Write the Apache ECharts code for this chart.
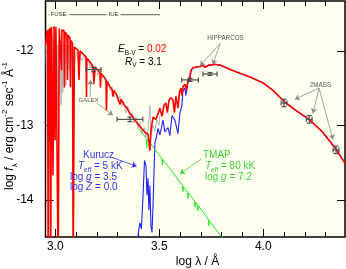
<!DOCTYPE html>
<html><head><meta charset="utf-8">
<script src="https://cdn.jsdelivr.net/npm/echarts@6/dist/echarts.min.js"></script>
<style>html,body{margin:0;padding:0;background:#fff}#c{width:346px;height:269px}</style>
</head><body><div id="c"></div>
<script>
const xMin = 2.953, xMax = 4.393, yMin = -14.5, yMax = -11.33;
const xTickLabels = [3.0, 3.5, 4.0];
const xMinorTicks = [3.0, 3.1, 3.2, 3.3, 3.4, 3.5, 3.6, 3.7, 3.8, 3.9, 4.0, 4.1, 4.2, 4.3];
const yTickLabels = [-14, -13, -12];

// combined reddened model (red)
const redSpectrum = [[2.954,-11.92],[2.958,-11.76],[2.963,-11.72],[2.966,-15],[2.970,-11.71],[2.972,-13.20],[2.975,-11.69],[2.978,-15],[2.982,-11.68],[2.989,-13.67],[2.994,-11.67],[2.999,-13.20],[3.003,-11.68],[3.010,-11.69],[3.014,-15],[3.019,-11.70],[3.027,-11.71],[3.030,-12.26],[3.032,-11.72],[3.042,-11.73],[3.044,-12.49],[3.047,-11.75],[3.056,-11.78],[3.059,-12.39],[3.061,-11.79],[3.071,-11.83],[3.073,-12.49],[3.075,-11.86],[3.083,-11.90],[3.086,-15],[3.092,-11.95],[3.100,-11.96],[3.109,-11.99],[3.114,-12.39],[3.119,-12.00],[3.133,-12.04],[3.148,-12.08],[3.150,-12.62],[3.152,-12.10],[3.167,-12.15],[3.181,-12.21],[3.186,-12.44],[3.191,-12.22],[3.205,-12.26],[3.215,-12.29],[3.217,-12.49],[3.220,-12.30],[3.234,-12.35],[3.244,-12.39],[3.246,-12.80],[3.249,-12.41],[3.263,-12.48],[3.273,-12.52],[3.277,-12.61],[3.282,-12.53],[3.297,-12.60],[3.306,-12.62],[3.311,-12.72],[3.316,-12.65],[3.330,-12.72],[3.345,-12.77],[3.359,-12.84],[3.374,-12.89],[3.388,-12.95],[3.402,-13.00],[3.417,-13.05],[3.431,-13.09],[3.446,-13.12],[3.455,-13.34],[3.460,-13.07],[3.470,-12.89],[3.484,-12.92],[3.494,-12.84],[3.503,-12.77],[3.513,-12.88],[3.523,-12.73],[3.532,-12.70],[3.539,-12.83],[3.547,-12.66],[3.556,-12.63],[3.566,-12.66],[3.573,-12.83],[3.580,-12.61],[3.590,-12.77],[3.597,-12.56],[3.604,-12.50],[3.609,-12.60],[3.614,-12.48],[3.624,-12.45],[3.631,-12.53],[3.638,-12.39],[3.648,-12.34],[3.652,-12.26],[3.662,-12.23],[3.672,-12.22],[3.681,-12.21],[3.696,-12.21],[3.710,-12.19],[3.720,-12.22],[3.729,-12.23],[3.739,-12.19],[3.753,-12.19],[3.768,-12.18],[3.782,-12.19],[3.792,-12.19],[3.816,-12.22],[3.850,-12.26],[3.888,-12.30],[3.936,-12.35],[3.999,-12.43],[4.047,-12.53],[4.100,-12.68],[4.157,-12.80],[4.220,-12.92],[4.282,-13.08],[4.350,-13.32],[4.393,-13.51]];

// observed FUSE / IUE spectrum (gray)
const graySpectrum = [[2.955,-11.92],[2.960,-12.66],[2.964,-11.86],[2.967,-13.20],[2.971,-11.79],[2.975,-12.60],[2.978,-11.76],[2.982,-12.73],[2.986,-11.80],[2.990,-12.53],[2.994,-11.86],[2.998,-13.20],[3.001,-11.83],[3.005,-12.66],[3.009,-11.92],[3.013,-12.80],[3.017,-11.88],[3.021,-12.60],[3.025,-11.86],[3.028,-12.73],[3.032,-11.92],[3.036,-12.56],[3.040,-11.88],[3.044,-12.50],[3.048,-11.92],[3.051,-12.46],[3.055,-11.96],[3.059,-12.33],[3.063,-11.92],[3.067,-12.26],[3.071,-11.92],[3.075,-12.15],[3.080,-11.96],[3.085,-12.26],[3.090,-12.02],[3.095,-12.13],[3.102,-12.02],[3.109,-12.10],[3.119,-12.03],[3.128,-12.13],[3.138,-12.07],[3.148,-12.15],[3.157,-12.10],[3.167,-12.23],[3.176,-12.17],[3.186,-12.29],[3.196,-12.21],[3.205,-12.33],[3.215,-12.26],[3.225,-12.37],[3.234,-12.33],[3.244,-12.45],[3.253,-12.39],[3.263,-12.53],[3.273,-12.48],[3.282,-12.62],[3.292,-12.56],[3.301,-12.68],[3.311,-12.61],[3.321,-12.74],[3.330,-12.68],[3.340,-12.83],[3.349,-12.74],[3.359,-12.91],[3.369,-12.83],[3.378,-12.97],[3.388,-12.89],[3.398,-13.04],[3.407,-12.96],[3.417,-13.11],[3.427,-13.03],[3.436,-13.16],[3.446,-13.07],[3.455,-12.73],[3.460,-13.13],[3.470,-13.00],[3.479,-13.07],[3.489,-12.93],[3.499,-13.00],[3.503,-12.87]];

// Kurucz model (blue)
const kuruczSpectrum = [[3.393,-14.61],[3.402,-14.39],[3.407,-14.31],[3.414,-14.39],[3.422,-13.94],[3.429,-13.47],[3.436,-13.54],[3.441,-13.94],[3.446,-13.71],[3.450,-14.14],[3.455,-13.81],[3.460,-14.35],[3.465,-14.44],[3.470,-14.08],[3.475,-13.61],[3.479,-13.24],[3.487,-13.15],[3.494,-13.04],[3.503,-13.13],[3.518,-12.93],[3.527,-13.09],[3.542,-13.03],[3.551,-13.14],[3.561,-12.87],[3.575,-12.93],[3.590,-13.11],[3.599,-12.84],[3.609,-12.73],[3.614,-12.53],[3.623,-12.50],[3.628,-12.60],[3.637,-12.43],[3.648,-12.39],[3.652,-12.27],[3.662,-12.23],[3.672,-12.22],[3.681,-12.21],[3.696,-12.21],[3.710,-12.19],[3.720,-12.22],[3.729,-12.23],[3.739,-12.19],[3.753,-12.19],[3.768,-12.18],[3.782,-12.19],[3.792,-12.19],[3.816,-12.22],[3.850,-12.26],[3.888,-12.30],[3.936,-12.35],[3.999,-12.43],[4.047,-12.53],[4.100,-12.68],[4.157,-12.80],[4.220,-12.92],[4.282,-13.08],[4.350,-13.32],[4.393,-13.51]];

// TMAP model (green)
const tmapSpectrum = [[3.400,-13.04],[3.430,-13.15],[3.438,-13.18],[3.440,-13.30],[3.442,-13.19],[3.460,-13.25],[3.480,-13.33],[3.500,-13.40],[3.513,-13.45],[3.515,-13.53],[3.517,-13.46],[3.551,-13.58],[3.580,-13.69],[3.612,-13.81],[3.614,-13.89],[3.616,-13.82],[3.636,-13.90],[3.638,-13.98],[3.640,-13.91],[3.660,-13.98],[3.670,-14.02],[3.672,-14.10],[3.674,-14.03],[3.684,-14.07],[3.686,-14.15],[3.688,-14.08],[3.710,-14.16],[3.737,-14.27],[3.739,-14.35],[3.741,-14.28],[3.770,-14.39],[3.800,-14.50],[3.820,-14.58]];

// photometry (GALEX FUV, NUV, Tycho BT, VT, 2MASS J, H, K)
const photBand = ['FUV','NUV','BT','VT','J','H','K'];
const photLam = [3.184, 3.359, 3.648, 3.744, 4.100, 4.221, 4.350];
const photHalfWidth = [0.036, 0.062, 0.040, 0.034, 0.014, 0.014, 0.014];
const photFlux = [-12.25, -12.92, -12.39, -12.31, -12.70, -12.92, -13.33];
const photErr = [0.03, 0.03, 0.02, 0.02, 0.05, 0.05, 0.05];

const FF = '"Liberation Sans", Arial, sans-serif';
const chart = echarts.init(document.getElementById('c'), null, {renderer:'canvas'});

function xAx(pos, ticks, len, labels){
  return {type:'value', min:xMin, max:xMax, position:pos, splitLine:{show:false},
    axisLine:{show:false},
    axisTick:{show:true, inside:true, length:len, customValues:ticks, lineStyle:{color:'#000', width:1}},
    axisLabel: labels ? {show:true, customValues:xTickLabels, formatter:v=>Number(v).toFixed(1), margin:4, fontSize:12, color:'#000', fontFamily:FF} : {show:false}};
}
function yAx(pos, labels){
  return {type:'value', min:yMin, max:yMax, position:pos, splitLine:{show:false}, axisLine:{show:false},
    axisTick:{show:true, inside:true, length:8, customValues:yTickLabels, lineStyle:{color:'#000', width:1}},
    axisLabel: labels ? {show:true, customValues:yTickLabels, formatter:v=>String(v), margin:12, fontSize:12, color:'#000', fontFamily:FF} : {show:false}};
}

function T(x, y, text, fill, size, rich){
  const r = {};
  const base = rich || {};
  for (const k in base) r[k] = Object.assign({fill:fill, color:fill, fontSize:size, fontFamily:FF, lineHeight:size+4}, base[k]);
  return {type:'text', x:x, y:y, z:100, silent:true,
    style:{text:text, fill:fill, font: size+'px '+FF, fontSize:size, fontFamily:FF, lineHeight:size+4,
      align:'left', verticalAlign:'middle', textAlign:'left', textVerticalAlign:'middle', rich:r}};
}
const KB = '#3232ee', TG = '#3ad43a';
const arrowStyle = (c)=>({silent:true, symbol:['none','arrow'], symbolSize:5, z:20, animation:false,
  label:{show:false}, emphasis:{disabled:true}, lineStyle:{color:c, width:0.8, type:'solid'}});

const option = {
  animation:false,
  grid:{left:45.5, top:1, right:1, bottom:32, show:true, backgroundColor:'#fffff0', borderColor:'#000', borderWidth:1.5},
  xAxis:[xAx('bottom', xMinorTicks, 5, true), xAx('bottom', xTickLabels, 8, false), xAx('top', xMinorTicks, 5, false), xAx('top', xTickLabels, 8, false)],
  yAxis:[yAx('left', true), yAx('right', false)],
  series:[
    {type:'line', data:graySpectrum, showSymbol:false, symbol:'none', lineStyle:{color:'#b4b4b4', width:1}, z:2,
     markLine:Object.assign(arrowStyle('#8a8a8a'), {data:[
       [{coord:[3.167,-12.62]},{coord:[3.170,-12.39]}],
       [{coord:[3.199,-12.70]},{coord:[3.277,-12.865]}],
       [{coord:[3.793,-11.90]},{coord:[3.696,-12.20]}],
       [{coord:[3.793,-11.90]},{coord:[3.757,-12.18]}],
       [{coord:[4.268,-12.50]},{coord:[4.152,-12.65]}],
       [{coord:[4.268,-12.50]},{coord:[4.239,-12.84]}],
       [{coord:[4.268,-12.50]},{coord:[4.335,-13.19]}]
     ]})},
    {type:'line', data:kuruczSpectrum, showSymbol:false, symbol:'none', lineStyle:{color:'#2020ff', width:1.1}, z:3,
     markLine:Object.assign(arrowStyle(KB), {data:[[{coord:[3.271,-13.43]},{coord:[3.391,-13.55]}]]})},
    {type:'line', data:tmapSpectrum, showSymbol:false, symbol:'none', lineStyle:{color:'#22e822', width:1}, z:3,
     markLine:Object.assign(arrowStyle(TG), {data:[[{coord:[3.704,-13.45]},{coord:[3.600,-13.65]}]]})},
    {type:'line', data:redSpectrum, showSymbol:false, symbol:'none', lineStyle:{color:'#ff0000', width:1.6}, z:4},
    {type:'custom', z:10, data:photLam.map((l,i)=>[l, photFlux[i], photHalfWidth[i], photErr[i]]),
     encode:{x:0, y:1},
     renderItem:function(params, api){
       const lam=api.value(0), f=api.value(1), hw=api.value(2), er=api.value(3);
       const L=api.coord([lam-hw,f]), R=api.coord([lam+hw,f]), Tp=api.coord([lam,f+er]), B=api.coord([lam,f-er]);
       const cap=2.5, st={stroke:'#505050', lineWidth:1.2};
       const seg=(x1,y1,x2,y2)=>({type:'line', shape:{x1:x1,y1:y1,x2:x2,y2:y2}, style:st});
       return {type:'group', children:[
         seg(L[0],L[1],R[0],R[1]), seg(L[0],L[1]-cap,L[0],L[1]+cap), seg(R[0],R[1]-cap,R[0],R[1]+cap),
         seg(Tp[0],Tp[1],B[0],B[1]), seg(Tp[0]-cap,Tp[1],Tp[0]+cap,Tp[1]), seg(B[0]-cap,B[1],B[0]+cap,B[1])]};
     }}
  ],
  graphic:[
    {type:'line', z:90, silent:true, shape:{x1:48.5,y1:14.7,x2:68,y2:14.7}, style:{stroke:'#333', lineWidth:0.8}},
    {type:'line', z:90, silent:true, shape:{x1:69.5,y1:14.7,x2:160,y2:14.7}, style:{stroke:'#333', lineWidth:0.8}},
    {type:'text', z:100, x:58.5, y:14.5, silent:true, style:{text:'FUSE', fill:'#333', font:'6px '+FF, align:'center', verticalAlign:'middle', textAlign:'center', textVerticalAlign:'middle', backgroundColor:'#fffff0', padding:[0,1]}},
    {type:'text', z:100, x:113.5, y:14.5, silent:true, style:{text:'IUE', fill:'#333', font:'6px '+FF, align:'center', verticalAlign:'middle', textAlign:'center', textVerticalAlign:'middle', backgroundColor:'#fffff0', padding:[0,2]}},
    T(118, 49.5, '{i|E}{s|B-V}{t| = }{r|0.02}', '#000', 10, {i:{fontStyle:'italic'}, s:{fontSize:6.5, lineHeight:7, verticalAlign:'bottom'}, t:{}, r:{fill:'#ff0000', color:'#ff0000'}}),
    T(125, 62, '{i|R}{s|V}{t| = 3.1}', '#000', 10, {i:{fontStyle:'italic'}, s:{fontSize:6.5, lineHeight:7, verticalAlign:'bottom'}, t:{}}),
    {type:'text', z:100, x:88.5, y:100, silent:true, style:{text:'GALEX', fill:'#555', font:'6px '+FF, align:'center', verticalAlign:'middle', textAlign:'center', textVerticalAlign:'middle'}},
    {type:'text', z:100, x:225.5, y:38, silent:true, style:{text:'HIPPARCOS', fill:'#555', font:'6.3px '+FF, align:'center', verticalAlign:'middle', textAlign:'center', textVerticalAlign:'middle'}},
    {type:'text', z:100, x:320.5, y:85.5, silent:true, style:{text:'2MASS', fill:'#555', font:'6.3px '+FF, align:'center', verticalAlign:'middle', textAlign:'center', textVerticalAlign:'middle'}},
    T(83, 155, '{t|Kurucz}', KB, 10, {t:{}}),
    T(78, 166.5, '{i|T}{s|eff}{t| = 5 kK}', KB, 10, {i:{fontStyle:'italic'}, s:{fontSize:6.5, lineHeight:7, verticalAlign:'bottom'}, t:{}}),
    T(70, 177, '{t|log }{i|g}{t| = 3.5}', KB, 10, {i:{fontStyle:'italic'}, t:{}}),
    T(70, 187.5, '{t|log }{i|Z}{t| = 0.0}', KB, 10, {i:{fontStyle:'italic'}, t:{}}),
    T(203, 155, '{t|TMAP}', TG, 10, {t:{}}),
    T(205, 166.5, '{i|T}{s|eff}{t| = 80 kK}', TG, 10, {i:{fontStyle:'italic'}, s:{fontSize:6.5, lineHeight:7, verticalAlign:'bottom'}, t:{}}),
    T(205, 177, '{t|log }{i|g}{t| = 7.2}', TG, 10, {i:{fontStyle:'italic'}, t:{}}),
    {type:'text', z:100, x:197.5, y:262, silent:true, style:{text:'log λ / Å', fill:'#000', font:'12px '+FF, align:'center', verticalAlign:'middle', textAlign:'center', textVerticalAlign:'middle'}},
    {type:'text', z:100, x:10, y:126, rotation:Math.PI/2, silent:true, style:{
      text:'{t|log }{i|f}{s|λ}{t| / erg cm}{p|-2}{t| sec}{p|-1}{t| Å}{p|-1}', fill:'#000', font:'12px '+FF,
      align:'center', verticalAlign:'middle', textAlign:'center', textVerticalAlign:'middle',
      rich:{t:{fontSize:12, lineHeight:18, fontFamily:FF, fill:'#000'}, i:{fontSize:12, lineHeight:18, fontStyle:'italic', fontFamily:FF, fill:'#000'},
            s:{fontSize:8, lineHeight:9, verticalAlign:'bottom', fontFamily:FF, fill:'#000'},
            p:{fontSize:8, lineHeight:9, verticalAlign:'top', fontFamily:FF, fill:'#000'}}}}
  ]
};
chart.setOption(option);
</script>
</body></html>
